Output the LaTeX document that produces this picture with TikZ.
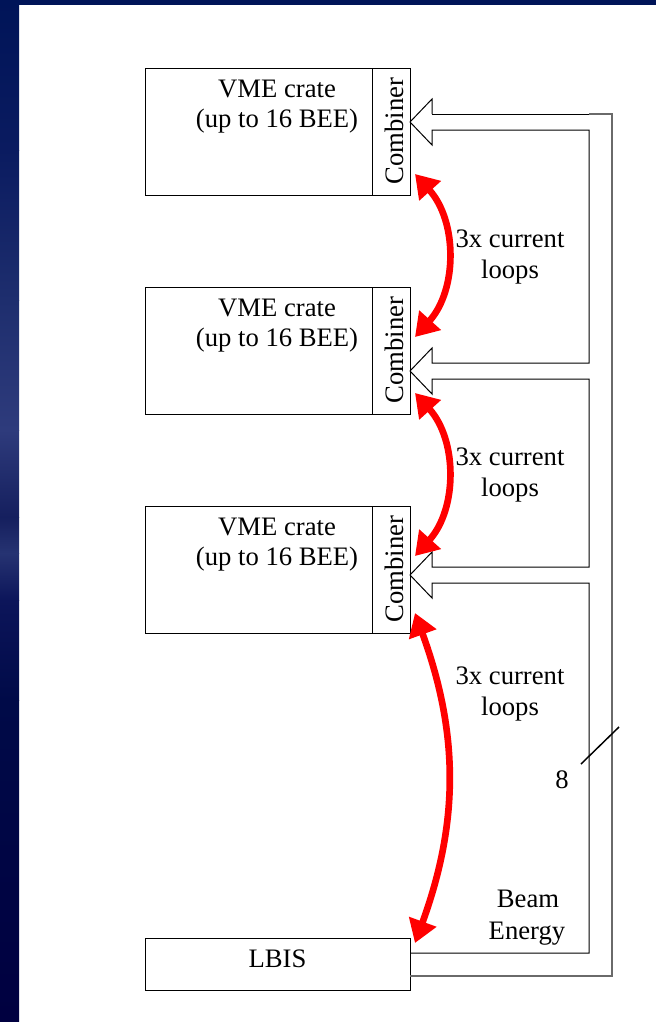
\documentclass[tikz,border=0pt]{standalone}
\usepackage{fontspec}
\setmainfont{Liberation Serif}
\usetikzlibrary{arrows.meta}

\definecolor{navy}{HTML}{001458}
\definecolor{sA}{HTML}{001458}
\definecolor{sB}{HTML}{0A1B60}
\definecolor{sC}{HTML}{1E2E6E}
\definecolor{sD}{HTML}{2E3B7C}
\definecolor{sE}{HTML}{151F5E}
\definecolor{sF}{HTML}{263372}
\definecolor{sG}{HTML}{0C155A}
\definecolor{sH}{HTML}{000A48}
\definecolor{sI}{HTML}{000040}
\definecolor{busgray}{HTML}{6A6A6A}
\definecolor{loopred}{HTML}{FF0000}

\tikzset{
  cratebox/.style={draw=black, line width=0.9pt, fill=white, inner sep=0pt,
    anchor=north west, minimum width=170.25pt, minimum height=95.25pt},
  combbox/.style={draw=black, line width=0.9pt, inner sep=0pt,
    anchor=north west, minimum width=28.5pt, minimum height=95.25pt},
  lbisbox/.style={draw=black, line width=0.9pt, fill=white, inner sep=0pt,
    anchor=north west, minimum width=198.75pt, minimum height=39pt},
  lbl/.style={anchor=base, inner sep=0pt},
  buswire/.style={draw=black, line width=0.75pt, line join=miter},
  busouter/.style={draw=busgray, line width=0.8pt},
  looparrow/.style={draw=loopred, line width=5pt,
    {Triangle[length=17pt, width=21pt]}-{Triangle[length=17pt, width=21pt]}},
}

\begin{document}
\begin{tikzpicture}[x=0.75pt, y=-0.75pt, font=\fontsize{20}{23}\selectfont]
  \useasboundingbox (0,0) rectangle (656,1022);

  % page background with navy frame strips
  \fill[white] (0,0) rectangle (656,1022);
  \fill[navy] (0,0) rectangle (656,5);
  \shade[top color=sA, bottom color=sB] (0,0) rectangle (19,150.5);
  \shade[top color=sB, bottom color=sC] (0,150) rectangle (19,300.5);
  \shade[top color=sC, bottom color=sD] (0,300) rectangle (19,430.5);
  \shade[top color=sD, bottom color=sE] (0,430) rectangle (19,517.5);
  \shade[top color=sE, bottom color=sF] (0,517) rectangle (19,553.5);
  \shade[top color=sF, bottom color=sG] (0,553) rectangle (19,600.5);
  \shade[top color=sG, bottom color=sH] (0,600) rectangle (19,700.5);
  \shade[top color=sH, bottom color=sI] (0,700) rectangle (19,1022);

  % VME crates with their combiner slots
  \node[cratebox] (crate1) at (145,68) {};
  \node[combbox]  (comb1)  at (372,68) {};
  \node[cratebox] (crate2) at (145,287) {};
  \node[combbox]  (comb2)  at (372,287) {};
  \node[cratebox] (crate3) at (145,506) {};
  \node[combbox]  (comb3)  at (372,506) {};
  \node[lbisbox]  (lbis)   at (145,938) {};

  \node[lbl] (t1a) at (277,97)  {VME crate};
  \node[lbl] (t1b) at (277,127) {(up to 16 BEE)};
  \node[lbl] (t2a) at (277,316) {VME crate};
  \node[lbl] (t2b) at (277,346) {(up to 16 BEE)};
  \node[lbl] (t3a) at (277,535) {VME crate};
  \node[lbl] (t3b) at (277,565) {(up to 16 BEE)};

  \node[lbl, rotate=90] (c1t) at (403,131) {Combiner};
  \node[lbl, rotate=90] (c2t) at (403,350) {Combiner};
  \node[lbl, rotate=90] (c3t) at (403,569) {Combiner};

  \node[lbl] (lbist) at (277.5,967) {LBIS};

  % beam energy bus: one hollow channel feeding three combiners
  \draw[buswire] (432,114) -- (432,99) -- (410,122) -- (432,145) -- (432,130)
                 -- (589,130) -- (589,363) -- (432,363) -- (432,348)
                 -- (410,371) -- (432,394) -- (432,379)
                 -- (589,379) -- (589,567) -- (432,567) -- (432,552)
                 -- (410,575) -- (432,598) -- (432,583)
                 -- (589,583) -- (589,953) -- (410,953);
  \draw[buswire] (432,114) -- (589,114);
  \draw[busouter] (589,114) -- (612,114) -- (612,976) -- (410,976);

  % bus width marker
  \draw[line width=1.1pt] (581,764) -- (619,727);
  \node[lbl] (busw) at (562,788) {8};

  \node[lbl] (beam1) at (528,907) {Beam};
  \node[lbl] (beam2) at (527,939) {Energy};

  % current loops between neighbouring combiners
  \coordinate (l1s) at (415,174);
  \coordinate (l1e) at (415,337);
  \coordinate (l2s) at (415,393);
  \coordinate (l2e) at (415,556);
  \coordinate (l3s) at (415,613);
  \coordinate (l3e) at (415,943);
  \draw[looparrow] (l1s) to[bend left=42] (l1e);
  \draw[looparrow] (l2s) to[bend left=42] (l2e);
  \draw[looparrow] (l3s) to[bend left=20] (l3e);

  \node[lbl] (cl1a) at (510,247) {3x current};
  \node[lbl] (cl1b) at (510,278) {loops};
  \node[lbl] (cl2a) at (510,465) {3x current};
  \node[lbl] (cl2b) at (510,496) {loops};
  \node[lbl] (cl3a) at (510,684) {3x current};
  \node[lbl] (cl3b) at (510,715) {loops};
\end{tikzpicture}
\end{document}
